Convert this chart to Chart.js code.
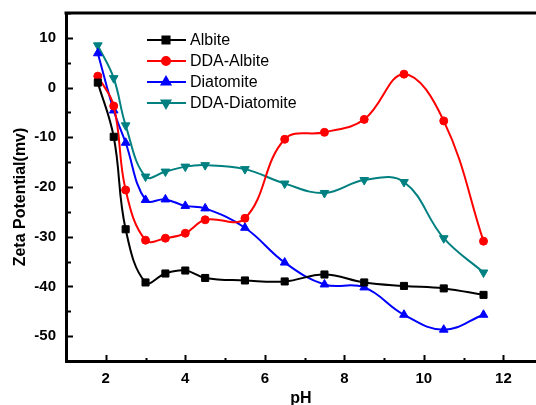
<!DOCTYPE html>
<html>
<head>
<meta charset="utf-8">
<script src="https://cdn.jsdelivr.net/npm/chart.js@4.4.1/dist/chart.umd.min.js"></script>
<style>
  html, body { margin: 0; padding: 0; background: #fff; }
  #wrap { width: 536px; height: 405px; }
</style>
</head>
<body>
<div id="wrap"><canvas id="zeta"></canvas></div>
<script>
// pH measurement points
const phValues = [1.8, 2.2, 2.5, 3, 3.5, 4, 4.5, 5.5, 6.5, 7.5, 8.5, 9.5, 10.5, 11.5];
// zeta potential (mV)
const albite       = [1.0, -9.9, -28.5, -39.2, -37.4, -36.8, -38.3, -38.8, -39.0, -37.6, -39.2, -39.9, -40.4, -41.7];
const ddaAlbite    = [2.3, -3.7, -20.6, -30.7, -30.3, -29.3, -26.6, -26.3, -10.4, -9.0, -6.4, 2.7, -6.7, -30.9];
const diatomite    = [6.9, -4.6, -11.1, -22.6, -22.5, -23.8, -24.3, -28.2, -35.2, -39.6, -40.2, -45.7, -48.7, -45.7];
const ddaDiatomite = [8.5, 1.9, -7.6, -17.9, -16.9, -15.9, -15.6, -16.4, -19.3, -21.2, -18.6, -19.0, -30.3, -37.2];

const xTickLabels = [2, 4, 6, 8, 10, 12];
const yTickLabels = [10, 0, -10, -20, -30, -40, -50];
const yTitle = "Zeta Potential(mv)";

const FONT = "Arial, 'Liberation Sans', sans-serif";

function pts(ys) {
    return phValues.map((x, i) => ({ x: x, y: ys[i] }));
}

function series(label, ys, color, style, radius, rotation) {
    return {
        label: label,
        data: pts(ys),
        borderColor: color,
        backgroundColor: color,
        borderWidth: 2,
        tension: 0.4,
        pointStyle: style,
        pointRadius: radius,
        pointHoverRadius: radius,
        pointRotation: rotation || 0,
        pointBorderWidth: 1,
    };
}

// inward ticks, top frame line, y title
const frameTicks = {
    id: "frameTicks",
    afterDraw(chart) {
        const ctx = chart.ctx;
        const a = chart.chartArea;
        const x = chart.scales.x;
        const y = chart.scales.y;
        ctx.save();
        ctx.strokeStyle = "#000";
        ctx.lineWidth = 2;
        for (let v = Math.ceil(x.min); v <= x.max; v++) {
            const px = Math.round(x.getPixelForValue(v)) + 0.5;
            const len = xTickLabels.includes(v) ? 6 : 3;
            ctx.beginPath();
            ctx.moveTo(px, a.bottom);
            ctx.lineTo(px, a.bottom - len);
            ctx.stroke();
        }
        for (let v = Math.ceil(y.min / 5) * 5; v <= y.max; v += 5) {
            const py = Math.round(y.getPixelForValue(v)) + 0.5;
            const len = yTickLabels.includes(v) ? 7 : 5;
            ctx.beginPath();
            ctx.moveTo(a.left, py);
            ctx.lineTo(a.left + len, py);
            ctx.stroke();
        }
        ctx.lineWidth = 3;
        ctx.beginPath();
        ctx.moveTo(a.left - 1.5, a.top);
        ctx.lineTo(a.right, a.top);
        ctx.stroke();

        // y axis title, a little below the plot centre as in the original
        ctx.translate(21, (a.top + a.bottom) / 2 + 10);
        ctx.rotate(-Math.PI / 2);
        ctx.font = "bold 16px " + FONT;
        ctx.fillStyle = "#000";
        ctx.textAlign = "center";
        ctx.textBaseline = "middle";
        ctx.fillText(yTitle, 0, 0);
        ctx.restore();
    }
};

// legend drawn inside the plot, top-left
const insideLegend = {
    id: "insideLegend",
    afterDraw(chart) {
        const ctx = chart.ctx;
        ctx.save();
        ctx.font = "16px " + FONT;
        ctx.textBaseline = "middle";
        ctx.textAlign = "left";
        chart.data.datasets.forEach((ds, i) => {
            const ry = 40 + i * 21;
            ctx.strokeStyle = ds.borderColor;
            ctx.fillStyle = ds.backgroundColor;
            ctx.lineWidth = 2;
            ctx.beginPath();
            ctx.moveTo(147, ry);
            ctx.lineTo(186, ry);
            ctx.stroke();
            Chart.helpers.drawPoint(ctx, {
                pointStyle: ds.pointStyle,
                radius: ds.pointRadius,
                rotation: ds.pointRotation,
                borderWidth: 1
            }, 166, ry);
            ctx.fillStyle = "#000";
            ctx.fillText(ds.label, 190, ry + 1);
        });
        ctx.restore();
    }
};

const ctx = document.getElementById("zeta").getContext("2d");
const chart = new Chart(ctx, {
    type: "line",
    data: {
        datasets: [
            series("Albite", albite, "#000000", "rect", 5),
            series("DDA-Albite", ddaAlbite, "#ff0000", "circle", 4),
            series("Diatomite", diatomite, "#0000ff", "triangle", 5),
            series("DDA-Diatomite", ddaDiatomite, "#008080", "triangle", 5, 180),
        ],
    },
    options: {
        responsive: true,
        maintainAspectRatio: false,
        animation: false,
        layout: { autoPadding: false, padding: { top: 13, right: 0, left: 0, bottom: 0 } },
        plugins: {
            legend: { display: false },
            tooltip: { enabled: false },
        },
        scales: {
            x: {
                type: "linear",
                min: 1,
                max: 12.82,
                afterFit: (s) => {
                    s.height = 44;
                    s.paddingLeft = 0;
                    s.paddingRight = 0;
                },
                grid: { display: false, drawTicks: false },
                border: { display: true, color: "#000", width: 3 },
                ticks: {
                    stepSize: 1,
                    includeBounds: false,
                    autoSkip: false,
                    maxRotation: 0,
                    padding: 9,
                    color: "#000",
                    font: { family: FONT, size: 15, weight: "bold" },
                    callback: (v) => (xTickLabels.includes(v) ? v : ""),
                },
                title: {
                    display: true,
                    text: "pH",
                    color: "#000",
                    font: { family: FONT, size: 16, weight: "bold" },
                    padding: { top: 0, bottom: -3 },
                },
            },
            y: {
                min: -55,
                max: 15,
                afterFit: (s) => {
                    s.width = 66;
                    s.paddingTop = 0;
                    s.paddingBottom = 0;
                },
                grid: { display: false, drawTicks: false },
                border: { display: true, color: "#000", width: 3 },
                ticks: {
                    stepSize: 5,
                    autoSkip: false,
                    padding: 10,
                    color: "#000",
                    font: { family: FONT, size: 15, weight: "bold" },
                    callback: (v) => (yTickLabels.includes(v) ? v : ""),
                },
                title: { display: false },
            },
        },
    },
    plugins: [frameTicks, insideLegend],
});
</script>
</body>
</html>
